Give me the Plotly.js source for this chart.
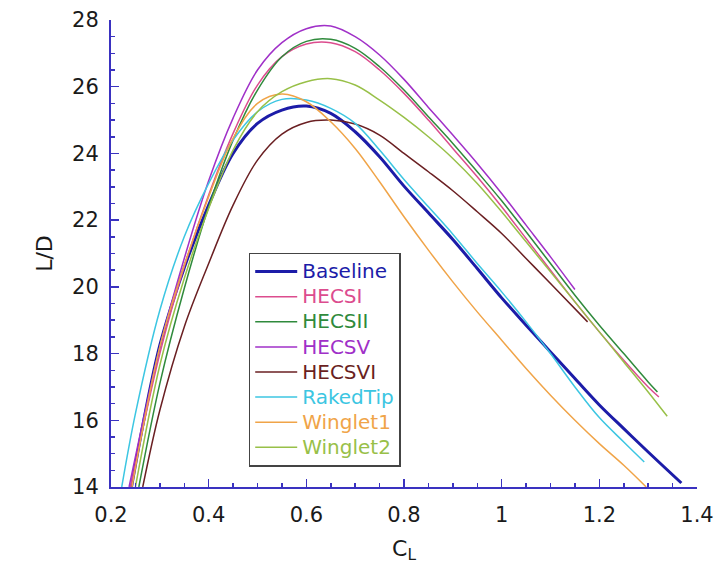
<!DOCTYPE html>
<html>
<head>
<meta charset="utf-8">
<script src="https://cdn.plot.ly/plotly-3.0.1.min.js"></script>
<style>html,body{margin:0;padding:0;background:#fff;}#chart{width:717px;height:565px;}</style>
</head>
<body>
<div id="chart"></div>
<script>
// Series names
const seriesNames = ["Baseline","HECSI","HECSII","HECSV","HECSVI","RakedTip","Winglet1","Winglet2"];

// C_L values and L/D values per series
const baselineCL = [0.242,0.30,0.35,0.40,0.45,0.50,0.55,0.60,0.65,0.70,0.75,0.80,0.85,0.90,0.95,1.00,1.05,1.10,1.15,1.20,1.25,1.30,1.368];
const baselineLD = [14,18.25,20.57,22.45,24.0,24.9,25.3,25.42,25.2,24.65,23.9,23.02,22.22,21.42,20.55,19.67,18.85,18.05,17.25,16.46,15.75,15.05,14.12];

const hecs1CL = [0.240,0.30,0.35,0.40,0.45,0.50,0.55,0.60,0.65,0.70,0.75,0.80,0.85,0.90,0.95,1.00,1.05,1.10,1.15,1.20,1.25,1.30,1.322];
const hecs1LD = [14,18.0,20.6,22.75,24.6,26.05,26.9,27.28,27.32,27.05,26.5,25.8,25.0,24.15,23.3,22.4,21.45,20.5,19.55,18.65,17.8,17.0,16.7];

const hecs2CL = [0.257,0.30,0.35,0.40,0.45,0.50,0.55,0.60,0.65,0.70,0.75,0.80,0.85,0.90,0.95,1.00,1.05,1.10,1.15,1.20,1.25,1.30,1.319];
const hecs2LD = [14,17.1,19.95,22.4,24.4,25.9,26.9,27.36,27.42,27.15,26.6,25.9,25.1,24.3,23.45,22.58,21.65,20.7,19.75,18.85,18.0,17.15,16.85];

const hecs5CL = [0.237,0.30,0.35,0.40,0.45,0.50,0.55,0.60,0.65,0.70,0.75,0.80,0.85,0.90,0.95,1.00,1.05,1.10,1.15];
const hecs5LD = [14,18.2,20.85,23.18,25.06,26.5,27.32,27.74,27.82,27.5,26.95,26.22,25.38,24.55,23.7,22.8,21.85,20.9,19.92];

const hecs6CL = [0.265,0.30,0.35,0.40,0.45,0.50,0.55,0.60,0.65,0.70,0.75,0.80,0.85,0.90,0.95,1.00,1.05,1.10,1.176];
const hecs6LD = [14,16.3,18.8,20.7,22.45,23.8,24.58,24.93,25.0,24.88,24.55,24.0,23.45,22.88,22.25,21.6,20.85,20.1,18.95];

const rakedCL = [0.222,0.25,0.30,0.35,0.40,0.45,0.50,0.55,0.60,0.65,0.70,0.75,0.80,0.85,0.90,0.95,1.00,1.05,1.10,1.15,1.20,1.25,1.292];
const rakedLD = [14,16.2,19.3,21.5,23.1,24.4,25.25,25.62,25.6,25.35,24.9,24.1,23.22,22.4,21.58,20.7,19.85,18.95,18.0,17.0,16.08,15.35,14.75];

const winglet1CL = [0.243,0.30,0.35,0.40,0.45,0.50,0.55,0.60,0.65,0.70,0.75,0.80,0.85,0.90,0.95,1.00,1.05,1.10,1.15,1.20,1.25,1.296];
const winglet1LD = [14,18.2,20.65,22.7,24.45,25.5,25.78,25.55,24.95,24.15,23.15,22.1,21.1,20.15,19.25,18.4,17.55,16.75,16.0,15.3,14.65,14.0];

const winglet2CL = [0.25,0.30,0.35,0.40,0.45,0.50,0.55,0.60,0.65,0.70,0.75,0.80,0.85,0.90,0.95,1.00,1.05,1.10,1.15,1.20,1.25,1.30,1.339];
const winglet2LD = [14,17.65,20.25,22.35,24.1,25.25,25.85,26.15,26.24,26.05,25.6,25.08,24.5,23.85,23.1,22.25,21.35,20.45,19.55,18.65,17.75,16.85,16.12];

const xTickVals = [0.2,0.4,0.6,0.8,1,1.2,1.4];
const xTickText = ["0.2","0.4","0.6","0.8","1","1.2","1.4"];
const yTickVals = [14,16,18,20,22,24,26,28];

const colors = ["#1c1ca8","#dc4c8e","#2f8a3c","#a030c8","#6a1f22","#3cc6e2","#f0a448","#98c048"];
const widths = [3,1.5,1.5,1.5,1.5,1.5,1.5,1.5];
const xs = [baselineCL,hecs1CL,hecs2CL,hecs5CL,hecs6CL,rakedCL,winglet1CL,winglet2CL];
const ys = [baselineLD,hecs1LD,hecs2LD,hecs5LD,hecs6LD,rakedLD,winglet1LD,winglet2LD];

const traces = seriesNames.map((n,i)=>({
  x: xs[i], y: ys[i], type:'scatter', mode:'lines',
  name: '<span style="color:'+colors[i]+';font-size:20px">'+n+'</span>',
  line:{color:colors[i], width:widths[i], shape:'spline', smoothing:1.0}
}));

const axisColor = "#3a32c0";
const fontFam = '"DejaVu Sans", "Open Sans", sans-serif';
const layout = {
  width:717, height:565,
  margin:{l:111, r:20, t:20, b:78},
  paper_bgcolor:'#fff', plot_bgcolor:'#fff',
  font:{family:fontFam, color:'#222'},
  showlegend:true,
  legend:{x:0.235, y:0.502, xanchor:'left', yanchor:'top',
    bordercolor:'#444', borderwidth:1.5, bgcolor:'#fff',
    font:{size:17, family:fontFam}, tracegroupgap:0, itemwidth:42},
  xaxis:{range:[0.2,1.4], tickvals:xTickVals, ticktext:xTickText,
    ticks:'inside', ticklen:8, tickwidth:1.5, tickcolor:axisColor,
    showline:true, linecolor:axisColor, linewidth:2, showgrid:false, zeroline:false,
    minor:{dtick:0.05, tick0:0.2, ticks:'inside', ticklen:4, tickcolor:axisColor, tickwidth:1.5, showgrid:false},
    tickfont:{size:21, color:'#1a1a1a', family:fontFam}, ticklabelstandoff:8,
    title:{text:'C<sub>L</sub>', font:{size:22, color:'#1a1a1a', family:fontFam}, standoff:14}},
  yaxis:{range:[14,28], tickvals:yTickVals,
    ticks:'inside', ticklen:8, tickwidth:1.5, tickcolor:axisColor,
    showline:true, linecolor:axisColor, linewidth:2, showgrid:false, zeroline:false,
    minor:{dtick:0.5, tick0:14, ticks:'inside', ticklen:4, tickcolor:axisColor, tickwidth:1.5, showgrid:false},
    tickfont:{size:21, color:'#1a1a1a', family:fontFam}, ticklabelstandoff:6,
    title:{text:'L/D', font:{size:22, color:'#1a1a1a', family:fontFam}, standoff:13}}
};
Plotly.newPlot('chart', traces, layout, {displayModeBar:false, staticPlot:true});
</script>
</body>
</html>
